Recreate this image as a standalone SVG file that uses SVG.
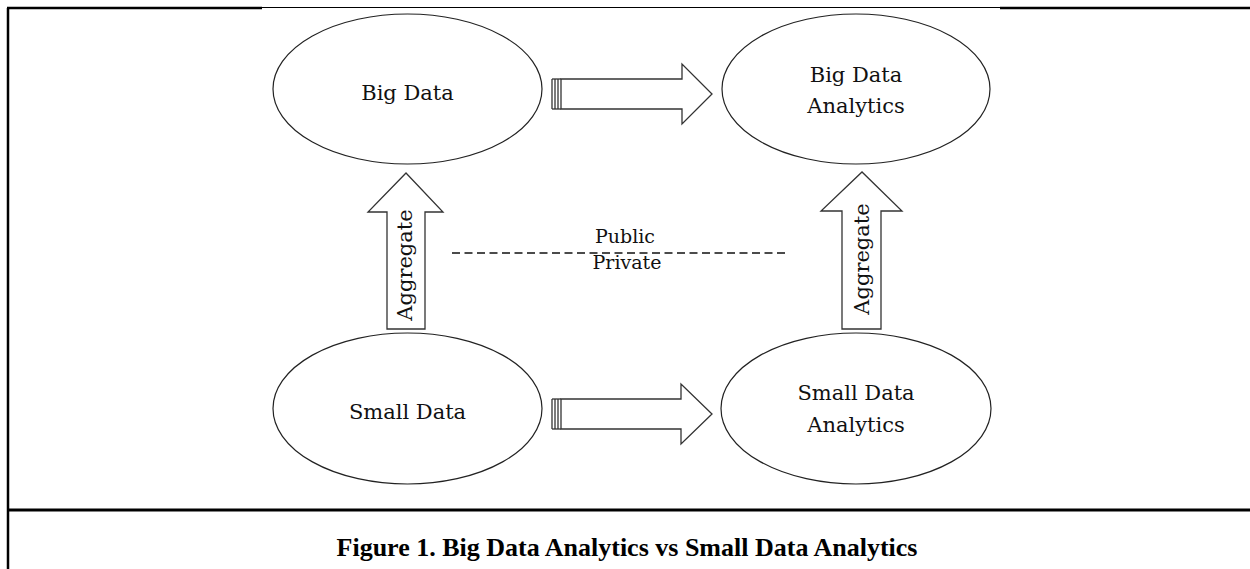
<svg xmlns="http://www.w3.org/2000/svg" width="1250" height="569" viewBox="0 0 1250 569">
<style>
.frame{stroke:#000;fill:none}
.node ellipse{fill:#fff;stroke:#222;stroke-width:1.2}
.lbl{font-family:"DejaVu Serif","Liberation Serif",serif;font-size:21px;fill:#111;text-anchor:middle}
.arr{fill:#fff;stroke:#333;stroke-width:1.3}
.tail{stroke:#333;stroke-width:1.3}
.cap{font-family:"Liberation Serif","Times New Roman",serif;font-weight:bold;font-size:26px;fill:#000;text-anchor:middle}
</style>
<rect width="1250" height="569" fill="#fff"/>
<g id="frame">
<line class="frame" x1="8" y1="8" x2="8" y2="569" stroke-width="2.5"/>
<line class="frame" x1="7" y1="8" x2="262" y2="8" stroke-width="2.5"/>
<line class="frame" x1="262" y1="7.5" x2="1000" y2="7.5" stroke-width="1"/>
<line class="frame" x1="1000" y1="8" x2="1250" y2="8" stroke-width="2.5"/>
<line class="frame" x1="8" y1="510" x2="1250" y2="510" stroke-width="3"/>
</g>
<g id="big-data" class="node">
<ellipse cx="407.5" cy="89" rx="134.5" ry="75"/>
<text class="lbl" x="407.5" y="100">Big Data</text>
</g>
<g id="big-data-analytics" class="node">
<ellipse cx="856" cy="89" rx="134" ry="75"/>
<text class="lbl" x="856" y="82">Big Data</text>
<text class="lbl" x="856" y="113">Analytics</text>
</g>
<g id="small-data" class="node">
<ellipse cx="407.5" cy="408.5" rx="134.5" ry="75.5"/>
<text class="lbl" x="407.5" y="419">Small Data</text>
</g>
<g id="small-data-analytics" class="node">
<ellipse cx="856" cy="408.5" rx="135" ry="75.5"/>
<text class="lbl" x="856" y="400">Small Data</text>
<text class="lbl" x="856" y="432">Analytics</text>
</g>
<g id="connectors">
<g id="arrow-big">
<polygon class="arr" points="561,79 682,79 682,64 712,94 682,124 682,109 561,109"/>
<line class="tail" x1="552" y1="79" x2="552" y2="109"/>
<line class="tail" x1="555" y1="79" x2="555" y2="109"/>
<line class="tail" x1="558" y1="79" x2="558" y2="109"/>
<line class="tail" x1="552" y1="79" x2="561" y2="79"/>
<line class="tail" x1="552" y1="109" x2="561" y2="109"/>
</g>
<g id="arrow-small">
<polygon class="arr" points="561,399 681,399 681,384 712,414 681,444 681,429 561,429"/>
<line class="tail" x1="552" y1="399" x2="552" y2="429"/>
<line class="tail" x1="555" y1="399" x2="555" y2="429"/>
<line class="tail" x1="558" y1="399" x2="558" y2="429"/>
<line class="tail" x1="552" y1="399" x2="561" y2="399"/>
<line class="tail" x1="552" y1="429" x2="561" y2="429"/>
</g>
<g id="aggregate-left">
<polygon class="arr" points="387,329 387,212 368,212 406,173 443,212 425,212 425,329"/>
<text class="lbl" transform="translate(412,265) rotate(-90)">Aggregate</text>
</g>
<g id="aggregate-right">
<polygon class="arr" points="842,329 842,211 821,211 862,172 902,211 881,211 881,329"/>
<text class="lbl" transform="translate(869,259) rotate(-90)">Aggregate</text>
</g>
<line x1="452" y1="253" x2="786" y2="253" stroke="#111" stroke-width="1.6" stroke-dasharray="8,4.5"/>
<text class="lbl" x="625" y="243" style="font-size:19px">Public</text>
<text class="lbl" x="627" y="269" style="font-size:19px">Private</text>
</g>
<text class="cap" x="627" y="556">Figure 1. Big Data Analytics vs Small Data Analytics</text>
</svg>
